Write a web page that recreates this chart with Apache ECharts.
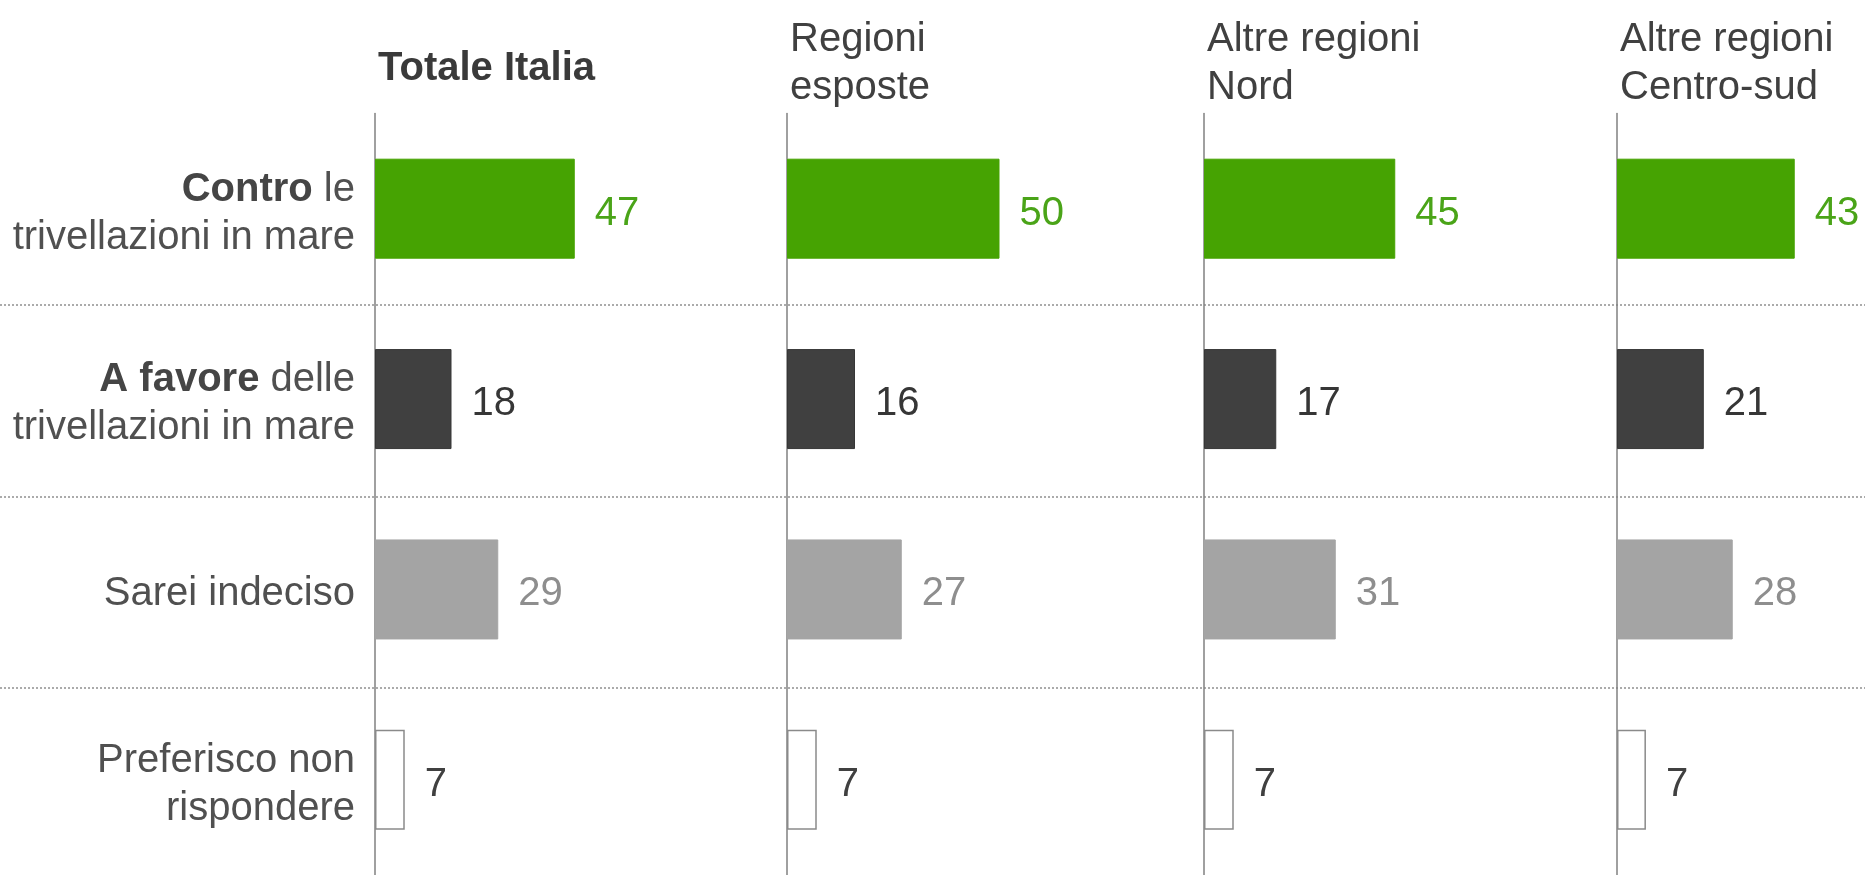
<!DOCTYPE html>
<html><head><meta charset="utf-8">
<script src="https://cdn.jsdelivr.net/npm/echarts@6/dist/echarts.min.js"></script>
<style>html,body{margin:0;padding:0;background:#fff}#c{width:1865px;height:875px}</style>
</head><body><div id="c"></div>
<script>
// ---- data ----
const categories = ['Contro le trivellazioni in mare', 'A favore delle trivellazioni in mare', 'Sarei indeciso', 'Preferisco non rispondere'];
const panelTitles = ['Totale Italia', 'Regioni\nesposte', 'Altre regioni\nNord', 'Altre regioni\nCentro-sud'];
const totaleItalia = [47, 18, 29, 7];
const regioniEsposte = [50, 16, 27, 7];
const altreNord = [45, 17, 31, 7];
const altreCentroSud = [43, 21, 28, 7];
const panelValues = [totaleItalia, regioniEsposte, altreNord, altreCentroSud];

// ---- styling ----
const FONT = '"Liberation Sans", Arial, Helvetica, sans-serif';
const barColors = ['#46a302', '#404040', '#a4a4a4', '#ffffff'];
const barBorders = ['#46a302', '#363636', '#a4a4a4', '#8a8a8a'];
const labelColors = ['#4aa418', '#363636', '#8e8e8e', '#404040'];
const catLabelRich = {
  'Contro le trivellazioni in mare': '{b|Contro}{n| le}\n{n|trivellazioni in mare}',
  'A favore delle trivellazioni in mare': '{b|A favore}{n| delle}\n{n|trivellazioni in mare}',
  'Sarei indeciso': '{n|Sarei indeciso}',
  'Preferisco non rispondere': '{n|Preferisco non}\n{n|rispondere}'
};
const panelLeft = [375, 787, 1204, 1617];
const GRID_TOP = 113.5, GRID_H = 766;
const XMAX = 60, PX_PER_UNIT = 4.25;

const grids = [], xAxes = [], yAxes = [], series = [], titles = [];
panelValues.forEach((vals, i) => {
  grids.push({left: panelLeft[i], top: GRID_TOP, width: XMAX * PX_PER_UNIT, height: GRID_H, containLabel: false});
  xAxes.push({type: 'value', gridIndex: i, min: 0, max: XMAX, show: false});
  yAxes.push({
    type: 'category', gridIndex: i, data: categories, inverse: true,
    axisLine: {show: true, lineStyle: {color: '#808080', width: 1.5}},
    axisTick: {show: false},
    splitLine: {show: false},
    axisLabel: {
      show: i === 0, margin: 20, align: 'right', padding: [10, 0, 0, 0],
      formatter: v => catLabelRich[v],
      rich: {
        b: {fontFamily: FONT, fontSize: 40, fontWeight: 'bold', color: '#454545', lineHeight: 48},
        n: {fontFamily: FONT, fontSize: 40, color: '#505050', lineHeight: 48}
      }
    }
  });
  series.push({
    type: 'bar', xAxisIndex: i, yAxisIndex: i, barWidth: 100,
    data: vals.map((v, k) => ({
      value: v,
      itemStyle: {color: barColors[k], borderColor: barBorders[k], borderWidth: k === 3 ? 1.5 : 1},
      label: {color: labelColors[k]}
    })),
    label: {show: true, position: 'right', distance: 20, offset: [0, 5], fontFamily: FONT, fontSize: 40}
  });
  titles.push({
    text: panelTitles[i], left: panelLeft[i] - 2, top: i === 0 ? 40 : 11,
    textStyle: {fontFamily: FONT, fontSize: 40, fontWeight: i === 0 ? 'bold' : 'normal', color: i === 0 ? '#3a3a3a' : '#404040', lineHeight: 48}
  });
});

// full-width dotted separators between rows
grids.push({left: 0, right: 0, top: GRID_TOP + GRID_H / 4, height: GRID_H / 2});
xAxes.push({type: 'value', gridIndex: 4, show: false, min: 0, max: 1});
yAxes.push({type: 'value', gridIndex: 4, min: 0, max: 2, interval: 1,
  axisLine: {show: false}, axisTick: {show: false}, axisLabel: {show: false},
  splitLine: {show: true, lineStyle: {color: '#ababab', type: 'dotted', width: 2}}});

const chart = echarts.init(document.getElementById('c'));
chart.setOption({
  animation: false,
  backgroundColor: '#ffffff',
  title: titles,
  grid: grids,
  xAxis: xAxes,
  yAxis: yAxes,
  series: series
});
</script>
</body></html>
